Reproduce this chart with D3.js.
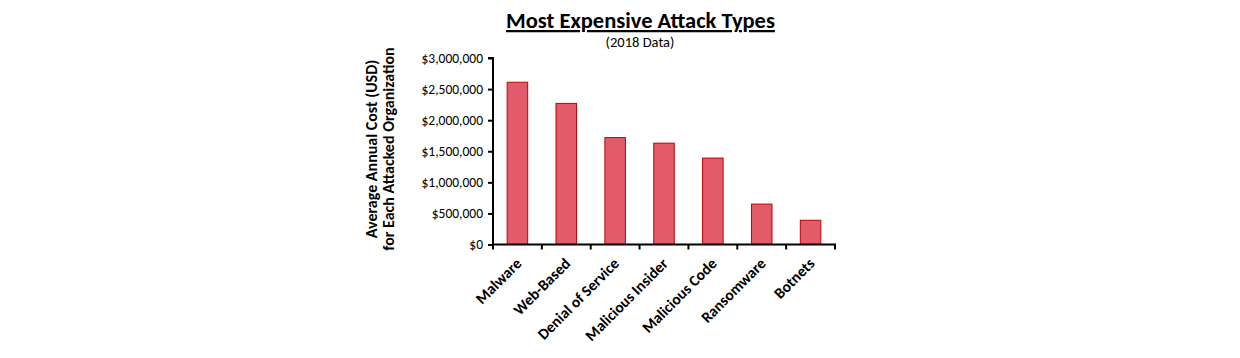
<!DOCTYPE html>
<html>
<head>
<meta charset="utf-8">
<script src="https://cdn.jsdelivr.net/npm/d3@7"></script>
<style>
  html, body { margin: 0; padding: 0; background: #fff; }
  svg { display: block; }
  text { font-family: Carlito, Calibri, Lato, "Open Sans", sans-serif; }
</style>
</head>
<body>
<svg id="chart" width="1240" height="358"></svg>
<script>
const categories = ["Malware", "Web-Based", "Denial of Service", "Malicious Insider", "Malicious Code", "Ransomware", "Botnets"];
const values = [2610000, 2270000, 1720000, 1630000, 1390000, 650000, 390000];
const yTicks = [0, 500000, 1000000, 1500000, 2000000, 2500000, 3000000];
const titleText = "Most Expensive Attack Types";
const subtitleText = "(2018 Data)";
const yTitleLines = ["Average Annual Cost (USD)", "for Each Attacked Organization"];

const svg = d3.select("#chart");
const plotLeft = 493, plotRight = 835, plotTop = 58, plotBottom = 244.5;

const x = d3.scaleBand().domain(categories).range([plotLeft, plotRight]).paddingInner(0.58).paddingOuter(0.29);
const xTickScale = d3.scaleBand().domain(categories).range([plotLeft, plotRight]);
const y = d3.scaleLinear().domain([0, 3000000]).range([plotBottom, plotTop]);

// bars
svg.append("g").selectAll("rect").data(categories).join("rect")
  .attr("x", d => x(d))
  .attr("width", x.bandwidth())
  .attr("y", (d, i) => y(values[i]))
  .attr("height", (d, i) => y(0) - y(values[i]))
  .attr("fill", "#E15B6A")
  .attr("stroke", "#C00000")
  .attr("stroke-width", 1);

// y axis
const yAxis = d3.axisLeft(y).tickValues(yTicks).tickSize(5).tickPadding(5)
  .tickFormat(d => "$" + d3.format(",")(d));
const gy = svg.append("g").attr("transform", `translate(${plotLeft},0)`).call(yAxis);
gy.select(".domain").attr("stroke", "#000").attr("stroke-width", 2).attr("d", `M-5,${plotTop}H0V${plotBottom}`);
gy.selectAll(".tick line").attr("stroke", "#000").attr("stroke-width", 2);
gy.selectAll(".tick text").attr("font-size", 13.5).attr("fill", "#000")
  .style("font-family", "Carlito, Calibri, Lato, sans-serif");

// x axis
const boundaries = categories.map(c => xTickScale(c)).concat([plotRight]);
const gx = svg.append("g");
gx.append("line").attr("x1", plotLeft - 1).attr("x2", plotRight + 1).attr("y1", plotBottom).attr("y2", plotBottom)
  .attr("stroke", "#000").attr("stroke-width", 2);
gx.selectAll("line.tk").data(boundaries).join("line").attr("class", "tk")
  .attr("x1", d => d).attr("x2", d => d).attr("y1", plotBottom).attr("y2", plotBottom + 5)
  .attr("stroke", "#000").attr("stroke-width", 2);
gx.selectAll("text").data(categories).join("text")
  .attr("transform", d => `translate(${x(d) + x.bandwidth() / 2 + 5},${plotBottom + 20}) rotate(-45)`)
  .attr("text-anchor", "end")
  .attr("font-size", 15.5).attr("font-weight", "bold").attr("fill", "#000")
  .text(d => d);

// title
svg.append("text").attr("x", 640.5).attr("y", 28).attr("text-anchor", "middle")
  .attr("font-size", 22.5).attr("font-weight", "bold").attr("text-decoration", "underline")
  .attr("fill", "#000").text(titleText);
svg.append("text").attr("x", 640).attr("y", 46.5).attr("text-anchor", "middle")
  .attr("font-size", 14.5).attr("fill", "#000").text(subtitleText);

// y title
const yt = svg.append("text").attr("transform", `translate(377,149) rotate(-90)`)
  .attr("text-anchor", "middle").attr("font-size", 16).attr("font-weight", "bold").attr("fill", "#000");
yTitleLines.forEach((l, i) => {
  yt.append("tspan").attr("x", 0).attr("dy", i === 0 ? 0 : 17).text(l);
});
</script>
</body>
</html>
